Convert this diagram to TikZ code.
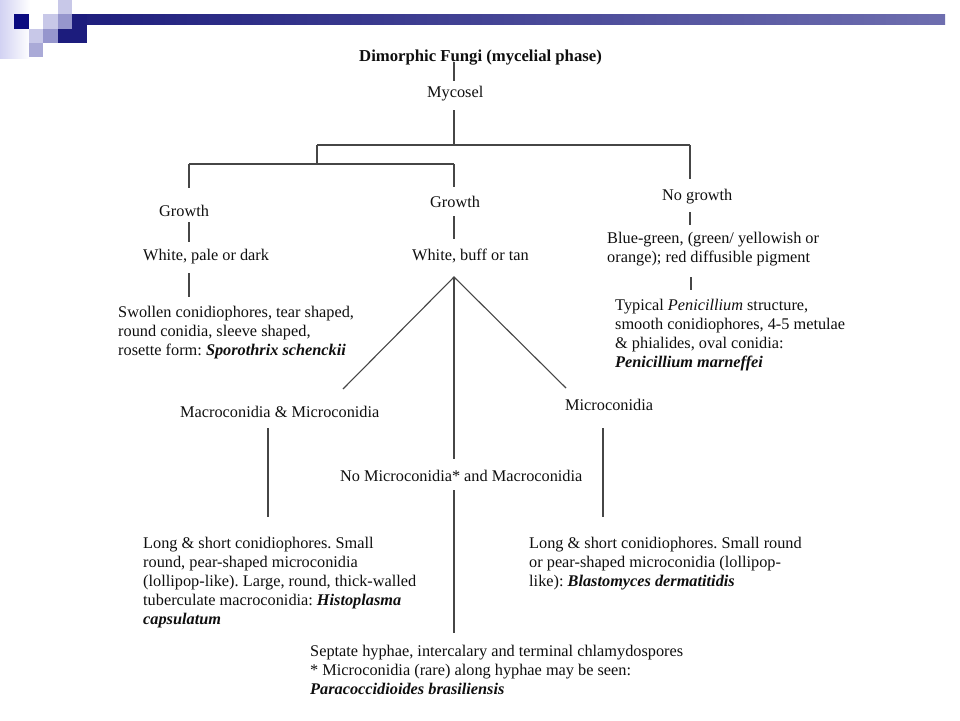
\documentclass[tikz,border=0pt]{standalone}
\usepackage{fontspec}
\setmainfont{Liberation Serif}
\definecolor{navy}{RGB}{10,10,128}
\definecolor{barL}{RGB}{30,30,125}
\definecolor{barR}{RGB}{110,110,175}
\definecolor{lav}{RGB}{200,200,232}
\definecolor{mid}{RGB}{150,150,205}
\definecolor{midlt}{RGB}{170,170,215}
\definecolor{dk}{RGB}{28,28,125}
\definecolor{ink}{RGB}{15,15,15}
\definecolor{wire}{RGB}{70,70,70}
\frenchspacing
\begin{document}
\begin{tikzpicture}[x=1pt,y=-1pt,
  txt/.style={anchor=base west, inner sep=0pt, text=ink, font=\fontsize{16.3}{19}\selectfont},
  multi/.style={anchor=north west, inner sep=0pt, text=ink, align=left, font=\fontsize{16.3}{19}\selectfont},
  link/.style={draw=wire, line width=1.1pt}]
\useasboundingbox (0,0) rectangle (960,720);
\fill[white] (0,0) rectangle (960,720);
% logo
\shade[left color=lav!90!blue!60, right color=white] (0,0) rectangle (30,58);
\shade[left color=barL, right color=barR] (72,14) rectangle (945,24);
\fill[navy] (14,14) rectangle (29,29);
\fill[lav] (58,0) rectangle (72,14);
\fill[lav] (43,14) rectangle (58,29);
\fill[mid] (58,14) rectangle (72,29);
\fill[dk] (72,14) rectangle (87,43);
\fill[dk] (58,29) rectangle (72,43);
\fill[lav] (29,29) rectangle (43,43);
\fill[mid] (43,29) rectangle (58,43);
\fill[midlt] (29,43) rectangle (43,57);

% nodes
\node[txt, font=\fontsize{16.7}{19}\selectfont\bfseries] (title) at (359,61) {Dimorphic Fungi (mycelial phase)};
\node[txt] (mycosel) at (427,97) {Mycosel};
\node[txt] (growthL) at (159,216) {Growth};
\node[txt] (whiteL) at (143,260) {White, pale or dark};
\node[multi] (sporo) at (118,303.7) {\strut Swollen conidiophores, tear shaped,\\round conidia, sleeve shaped,\\rosette form: {\bfseries\itshape Sporothrix schenckii}};
\node[txt] (growthC) at (430,207) {Growth};
\node[txt] (whiteC) at (412,260) {White, buff or tan};
\node[txt] (nogrowth) at (662,200) {No growth};
\node[multi] (blue) at (607,229.7) {\strut Blue-green, (green/ yellowish or\\orange); red diffusible pigment};
\node[multi] (peni) at (615,296.7) {\strut Typical \textit{Penicillium} structure,\\smooth conidiophores, 4-5 metulae\\\& phialides, oval conidia:\\{\bfseries\itshape Penicillium marneffei}};
\node[txt] (macmic) at (180,417) {Macroconidia \& Microconidia};
\node[txt] (micro) at (565,410) {Microconidia};
\node[txt] (nomicro) at (340,481) {No Microconidia* and Macroconidia};
\node[multi] (histo) at (143,534.7) {\strut Long \& short conidiophores. Small\\round, pear-shaped microconidia\\(lollipop-like). Large, round, thick-walled\\tuberculate macroconidia: {\bfseries\itshape Histoplasma}\\{\bfseries\itshape capsulatum}};
\node[multi] (blasto) at (529,534.7) {\strut Long \& short conidiophores. Small round\\or pear-shaped microconidia (lollipop-\\like): {\bfseries\itshape Blastomyces dermatitidis}};
\node[multi] (para) at (310,642.7) {\strut Septate hyphae, intercalary and terminal chlamydospores\\* Microconidia (rare) along hyphae may be seen:\\{\bfseries\itshape Paracoccidioides brasiliensis}};

% junction coordinates
\coordinate (t0) at (454,62);   \coordinate (m0) at (454,81);
\coordinate (m1) at (454,110);  \coordinate (b0) at (454,145);
\coordinate (bL) at (317,145);  \coordinate (bR) at (690,145);
\coordinate (cL) at (317,164);  \coordinate (c0) at (189,164);
\coordinate (c1) at (454,164);
\coordinate (gL) at (189,188);  \coordinate (gC) at (454,187);
\coordinate (ng) at (690,179);
\coordinate (gL1) at (189,222); \coordinate (wL0) at (189,242);
\coordinate (wL1) at (189,273); \coordinate (sp0) at (189,297);
\coordinate (gC1) at (454,216); \coordinate (wC0) at (454,239);
\coordinate (apex) at (454,277);
\coordinate (mmT) at (343,389); \coordinate (miT) at (566,388);
\coordinate (nmT) at (454,459);
\coordinate (mmB) at (268,428); \coordinate (hiT) at (268,517);
\coordinate (miB) at (603,428); \coordinate (blT) at (603,517);
\coordinate (nmB) at (454,490); \coordinate (paT) at (454,633);
\coordinate (ng1) at (690,212); \coordinate (bu0) at (690,225);
\coordinate (bu1) at (691,277); \coordinate (pe0) at (691,290);

% connectors
\draw[link] (t0) -- (m0);
\draw[link] (m1) -- (b0);
\draw[link] (bL) -- (bR);
\draw[link] (bL) -- (cL);
\draw[link] (c0) -- (c1);
\draw[link] (c0) -- (gL);
\draw[link] (c1) -- (gC);
\draw[link] (bR) -- (ng);
\draw[link] (gL1) -- (wL0);
\draw[link] (wL1) -- (sp0);
\draw[link] (gC1) -- (wC0);
\draw[link] (mmT) -- (apex) -- (miT);
\draw[link] (apex) -- (nmT);
\draw[link] (mmB) -- (hiT);
\draw[link] (miB) -- (blT);
\draw[link] (nmB) -- (paT);
\draw[link] (ng1) -- (bu0);
\draw[link] (bu1) -- (pe0);
\end{tikzpicture}
\end{document}
